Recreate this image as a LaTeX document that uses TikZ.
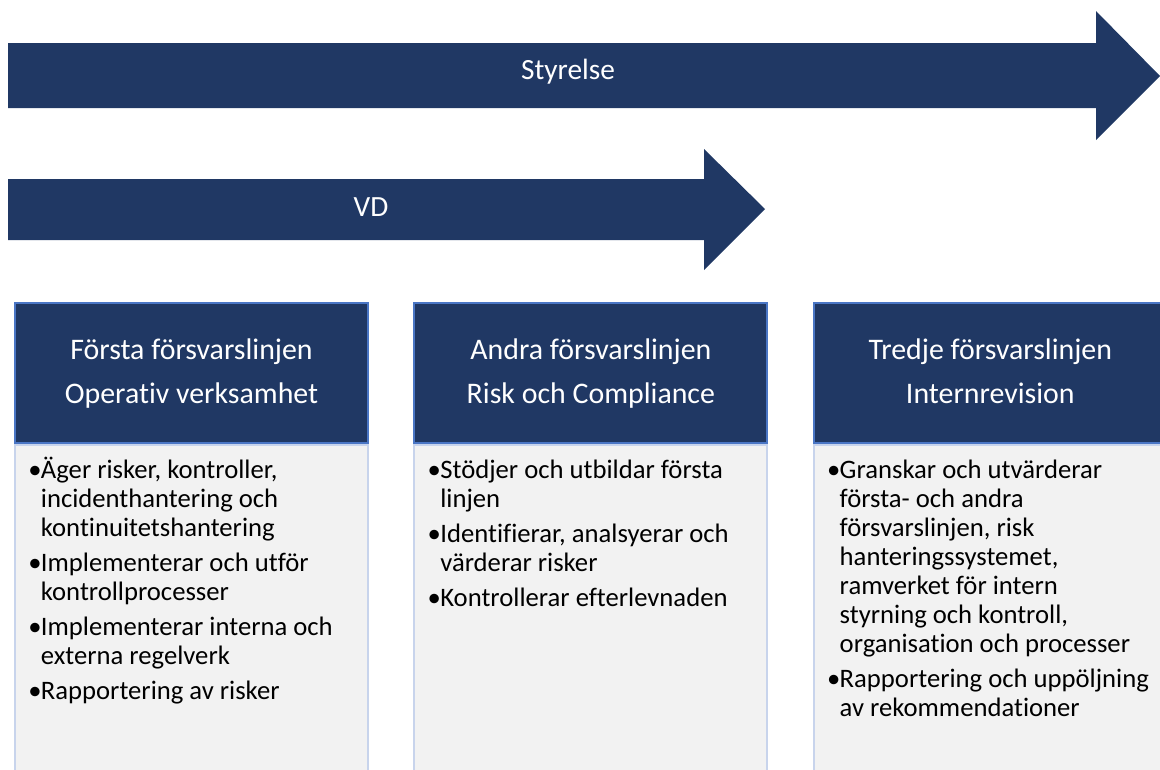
\documentclass[tikz,border=0pt]{standalone}
\usepackage{fontspec}
\setmainfont{Carlito}[Ligatures=NoCommon]
\usetikzlibrary{positioning,calc}
\definecolor{navy}{HTML}{203864}
\definecolor{headline}{HTML}{4A76C5}
\definecolor{bodyline}{HTML}{C8D4EC}
\definecolor{bodyfill}{HTML}{F2F2F2}
\newlength{\pktw}
\setlength{\pktw}{9.5pt}
\newcommand{\pkt}{\makebox[\pktw][l]{•}}
\newcommand{\pktind}{\hspace*{\pktw}}
\tikzset{
head/.style = {draw=headline, fill=navy, text=white, rectangle, align=center, line width=1.5pt,
  minimum width=264.75pt, minimum height=105pt, font=\fontsize{22.4}{33}\selectfont},
body/.style = {draw=bodyline, fill=bodyfill, rectangle, line width=1.5pt,
  minimum width=264.75pt, minimum height=252pt},
list/.style = {align=left, inner sep=0pt, font=\fontsize{20}{21.75}\selectfont},
arrowtext/.style = {text=white, inner sep=0pt, font=\fontsize{22}{26}\selectfont}
}
\begin{document}
\begin{tikzpicture}[x=0.75pt, y=-0.75pt, node distance=33.3pt]
    \useasboundingbox (0,0) rectangle (1160,769);
    \clip (0,0) rectangle (1160,769);

    % arrows
    \fill[navy] (8,43) -- (1096,43) -- (1096,11) -- (1160,76) -- (1096,140) -- (1096,108) -- (8,108) -- cycle;
    \node[arrowtext, anchor=base] (styrelse) at (568,79) {Styrelse};
    \fill[navy] (8,179) -- (704,179) -- (704,149) -- (765,209) -- (704,270) -- (704,240) -- (8,240) -- cycle;
    \node[arrowtext, anchor=base] (vd) at (371,216) {VD};

    % boxes
    \node[body, anchor=north west] (body1) at (14,444) {};
    \node[head, anchor=south west] (head1) at (body1.north west)
      {Första försvarslinjen\strut\\Operativ verksamhet\strut};
    \node[body, right=of body1] (body2) {};
    \node[head, anchor=south west] (head2) at (body2.north west)
      {Andra försvarslinjen\strut\\Risk och Compliance\strut};
    \node[body, right=of body2] (body3) {};
    \node[head, anchor=south west] (head3) at (body3.north west)
      {Tredje försvarslinjen\strut\\Internrevision\strut};

    % bullet lists
    \node[list, anchor=north west] (list1) at ([xshift=10.5pt, yshift=-7.5pt]body1.north west)
      {\rule{0pt}{18pt}\pkt Äger risker, kontroller,\\
       \pktind incidenthantering och\\
       \pktind kontinuitetshantering\\[4.5pt]
       \pkt Implementerar och utför\\
       \pktind kontrollprocesser\\[4.5pt]
       \pkt Implementerar interna och\\
       \pktind externa regelverk\\[4.5pt]
       \pkt Rapportering av risker};
    \node[list, anchor=north west] (list2) at ([xshift=10.5pt, yshift=-7.5pt]body2.north west)
      {\rule{0pt}{18pt}\pkt Stödjer och utbildar första\\
       \pktind linjen\\[4.5pt]
       \pkt Identifierar, analsyerar och\\
       \pktind värderar risker\\[4.5pt]
       \pkt Kontrollerar efterlevnaden};
    \node[list, anchor=north west] (list3) at ([xshift=10.5pt, yshift=-7.5pt]body3.north west)
      {\rule{0pt}{18pt}\pkt Granskar och utvärderar\\
       \pktind första- och andra\\
       \pktind försvarslinjen, risk\\
       \pktind hanteringssystemet,\\
       \pktind ramverket för intern\\
       \pktind styrning och kontroll,\\
       \pktind organisation och processer\\[4.5pt]
       \pkt Rapportering och uppöljning\\
       \pktind av rekommendationer};
\end{tikzpicture}
\end{document}
